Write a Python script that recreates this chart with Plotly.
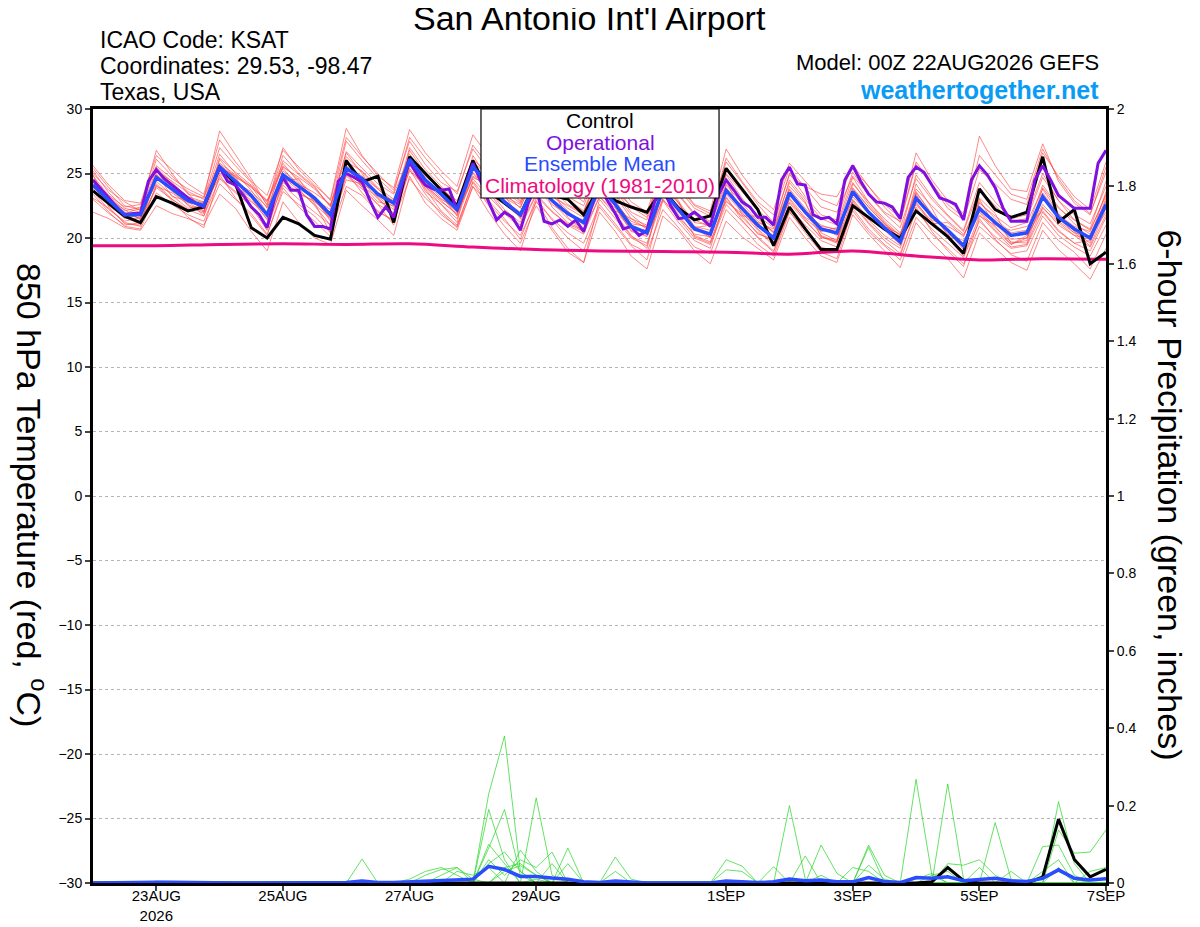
import pandas as pd
import plotly.graph_objects as go

# 6-hourly GEFS times and 3-hourly operational times
times = pd.date_range('2026-08-22 00:00', periods=65, freq='6h')
op_times = pd.date_range('2026-08-22 00:00', periods=129, freq='3h')

# ---- 850 hPa temperature (C) ----
control_t = [23.65, 22.7, 21.7, 21.2, 23.2, 22.7, 22.1, 22.4, 25.5, 24.2, 20.8, 20.0, 21.6, 21.1, 20.2, 19.9,
             26.0, 24.35, 24.8, 21.2, 26.3, 25.0, 23.7, 22.5, 26.0, 23.6, 22.7, 21.8, 24.5, 23.3, 23.0, 21.8,
             24.0, 22.9, 22.4, 22.0, 23.8, 22.3, 21.4, 21.7, 25.4, 23.8, 22.2, 19.4, 22.4, 20.7, 19.1, 19.1,
             22.5, 21.6, 20.7, 20.0, 22.1, 21.1, 20.1, 18.8, 23.8, 22.2, 21.6, 22.0, 26.3, 21.25, 22.2, 18.0, 18.9]

mean_t = [24.1, 22.9, 21.8, 21.8, 24.7, 23.8, 22.9, 22.5, 25.5, 24.4, 23.3, 21.8, 24.9, 24.0, 23.1, 21.8,
          25.4, 24.6, 23.4, 22.7, 26.1, 24.5, 23.4, 22.2, 25.5, 24.2, 22.8, 21.8, 24.3, 22.9, 21.9, 21.2,
          24.0, 22.6, 20.9, 20.4, 23.7, 22.2, 20.7, 20.3, 23.7, 22.3, 21.0, 20.0, 23.5, 22.0, 20.7, 20.4,
          23.6, 22.0, 20.8, 19.7, 23.1, 21.7, 20.6, 19.4, 22.3, 21.2, 20.2, 20.4, 23.2, 21.6, 20.7, 20.0, 22.6]

oper_t = [24.5, 23.8, 23.1, 22.4, 21.8, 21.9, 21.9, 24.4, 25.3, 24.6, 24.1, 23.6, 23.1, 22.7, 22.4, 24.0,
          25.5, 24.4, 24.1, 23.3, 22.4, 21.8, 20.8, 23.2, 24.7, 23.7, 23.7, 21.8, 20.9, 20.9, 20.7, 24.4,
          25.0, 24.7, 24.35, 22.9, 21.6, 22.4, 21.6, 24.0, 25.9, 24.9, 24.1, 23.8, 23.7, 23.8, 22.2, 24.0,
          25.8, 24.4, 22.8, 21.4, 22.0, 21.6, 20.6, 22.7, 24.0, 21.3, 21.1, 21.4, 20.9, 21.4, 20.5, 22.4,
          24.0, 22.9, 21.9, 20.7, 20.9, 20.2, 20.6, 22.9, 23.8, 22.5, 21.5, 21.6, 22.0, 21.5, 20.9, 23.3,
          24.5, 23.7, 22.8, 22.4, 21.6, 21.6, 21.0, 24.5, 25.5, 24.2, 24.1, 21.8, 21.5, 21.6, 21.1, 24.5,
          25.6, 24.4, 23.4, 22.8, 22.7, 22.4, 21.5, 24.7, 25.5, 25.1, 24.1, 23.1, 22.9, 22.6, 21.4, 24.5,
          25.6, 24.9, 23.9, 22.3, 21.3, 21.3, 21.3, 24.5, 25.6, 24.5, 23.3, 22.8, 22.3, 22.3, 22.3, 25.8,
          26.8]

clim_times = pd.date_range('2026-08-22 00:00', periods=17, freq='1D')
clim_t = [19.4, 19.4, 19.5, 19.55, 19.5, 19.55, 19.3, 19.1, 19.0, 18.95, 18.9, 18.75, 19.0, 18.6, 18.3, 18.4, 18.35]

members_t = [
    [25.2, 23.5, 22.3, 22.0, 26.1, 24.8, 23.6, 23.0, 27.0, 25.6, 24.3, 22.6, 26.4, 25.0, 24.0, 22.4, 27.5, 26.0, 24.6, 23.5, 27.8, 26.2, 24.8, 23.4, 27.2, 25.6, 24.0, 22.8, 26.0, 24.2, 23.0, 22.1, 25.3, 23.7, 22.0, 21.4, 25.1, 23.4, 21.9, 21.3, 25.0, 23.6, 22.2, 21.0, 25.0, 23.2, 21.8, 21.4, 25.1, 23.3, 21.9, 20.8, 24.6, 23.0, 21.7, 20.5, 23.8, 22.5, 21.3, 21.5, 24.7, 22.9, 21.8, 21.1, 24.0],
    [23.4, 22.0, 20.9, 20.7, 23.5, 22.6, 21.8, 21.3, 24.2, 23.0, 21.9, 20.3, 23.6, 22.6, 21.7, 20.4, 24.0, 23.3, 22.0, 21.4, 24.6, 23.1, 22.0, 20.8, 24.0, 22.7, 21.3, 20.2, 22.8, 21.5, 20.4, 19.6, 22.6, 21.1, 19.5, 18.9, 22.2, 20.8, 19.3, 18.8, 22.2, 20.9, 19.5, 18.6, 22.0, 20.6, 19.3, 18.9, 22.1, 20.5, 19.4, 18.3, 21.6, 20.3, 19.2, 18.0, 20.9, 19.8, 18.8, 19.0, 21.7, 20.2, 19.3, 18.6, 21.0],
    [24.6, 23.2, 22.0, 21.5, 25.2, 24.4, 23.5, 22.0, 26.2, 25.1, 24.1, 22.9, 25.5, 24.7, 23.8, 22.5, 26.6, 25.0, 23.1, 21.9, 25.4, 23.9, 22.6, 21.5, 24.8, 23.9, 23.1, 22.4, 25.1, 22.4, 21.2, 20.6, 23.2, 22.1, 21.5, 21.0, 24.6, 22.9, 20.1, 19.6, 22.9, 21.7, 21.7, 20.8, 24.3, 22.8, 20.1, 19.7, 24.2, 22.8, 21.5, 20.4, 22.6, 21.1, 21.2, 20.1, 23.1, 21.9, 19.6, 19.8, 23.9, 22.3, 21.4, 20.6, 23.3],
    [25.4, 23.9, 22.5, 22.2, 26.8, 25.0, 23.4, 23.1, 28.3, 26.4, 24.6, 22.5, 27.0, 25.3, 24.1, 23.0, 28.5, 26.4, 24.8, 23.9, 28.4, 26.6, 25.2, 24.0, 28.0, 26.3, 24.5, 23.2, 26.8, 24.9, 23.7, 22.8, 26.2, 24.5, 22.8, 22.0, 26.0, 24.2, 22.6, 22.1, 26.9, 24.9, 23.3, 22.2, 25.8, 24.4, 23.0, 22.5, 25.7, 24.0, 22.6, 21.6, 26.6, 24.5, 22.9, 21.9, 27.9, 25.6, 23.8, 23.6, 27.3, 24.4, 22.7, 21.8, 25.5],
    [22.0, 21.5, 20.8, 20.6, 22.5, 21.9, 21.5, 21.0, 23.4, 22.3, 20.5, 19.0, 22.8, 21.2, 20.0, 19.5, 23.7, 22.5, 21.4, 20.2, 24.8, 22.7, 21.5, 20.6, 24.0, 22.0, 20.3, 19.0, 22.9, 20.8, 19.2, 18.1, 22.0, 20.5, 18.6, 17.6, 21.7, 20.6, 19.0, 18.0, 21.3, 20.1, 19.2, 18.3, 21.6, 20.0, 18.6, 18.1, 21.8, 20.3, 19.0, 17.7, 21.2, 19.6, 18.4, 16.9, 20.4, 19.2, 18.1, 17.5, 20.6, 19.1, 18.0, 16.8, 19.2],
    [24.8, 23.3, 22.1, 22.4, 25.6, 24.6, 23.8, 23.2, 25.8, 24.9, 24.0, 22.3, 25.6, 24.5, 23.2, 21.3, 24.9, 24.0, 23.2, 22.2, 26.8, 25.0, 23.6, 22.0, 25.9, 24.8, 23.3, 21.5, 23.8, 22.6, 21.8, 21.4, 24.7, 23.3, 21.5, 20.7, 23.4, 21.8, 20.2, 19.7, 23.1, 21.6, 20.4, 19.7, 23.0, 21.4, 20.0, 19.9, 23.9, 22.4, 21.1, 19.9, 23.8, 22.5, 21.3, 20.3, 22.0, 20.6, 19.5, 20.0, 22.6, 21.3, 20.4, 20.1, 22.0],
    [23.8, 22.6, 21.5, 21.9, 24.2, 23.0, 22.1, 22.3, 25.0, 24.0, 23.1, 21.4, 24.3, 23.5, 22.8, 21.9, 25.9, 25.2, 23.9, 23.0, 26.5, 24.9, 23.9, 22.7, 25.1, 23.7, 22.2, 21.2, 24.7, 23.3, 22.1, 21.0, 23.5, 22.3, 20.6, 20.1, 23.0, 21.6, 20.3, 20.1, 24.1, 22.7, 21.3, 20.5, 22.8, 21.5, 20.5, 20.8, 24.3, 22.6, 21.2, 19.9, 23.5, 21.9, 20.5, 19.1, 22.7, 21.7, 20.8, 21.2, 23.8, 21.9, 20.5, 19.6, 22.8],
    [24.3, 23.0, 22.2, 21.4, 24.0, 23.5, 22.6, 22.0, 26.1, 24.6, 23.3, 21.7, 25.2, 24.2, 23.5, 22.6, 25.2, 24.1, 22.8, 22.5, 26.0, 24.2, 22.9, 21.8, 25.0, 23.6, 21.9, 20.8, 23.3, 22.0, 21.1, 20.5, 24.4, 22.9, 21.1, 20.9, 24.4, 22.7, 20.9, 20.1, 23.4, 22.0, 20.6, 19.4, 22.7, 21.3, 20.1, 19.6, 22.8, 21.2, 20.0, 19.2, 22.7, 21.3, 20.2, 19.6, 21.8, 20.5, 19.3, 19.5, 22.4, 21.0, 20.2, 19.9, 23.6],
    [24.9, 22.4, 21.1, 21.0, 25.0, 23.2, 22.9, 21.7, 25.3, 24.8, 22.4, 20.6, 24.4, 24.6, 22.7, 20.4, 26.1, 23.9, 22.6, 21.0, 25.9, 23.6, 22.6, 21.2, 26.4, 24.5, 23.5, 22.3, 25.4, 23.8, 21.6, 20.4, 24.9, 21.9, 20.2, 19.2, 23.9, 22.7, 20.8, 21.0, 24.5, 21.8, 20.3, 19.9, 24.0, 22.7, 20.4, 19.8, 23.0, 21.5, 20.6, 19.5, 24.2, 22.3, 20.1, 18.9, 23.0, 20.9, 19.5, 20.2, 22.3, 21.2, 20.2, 19.3, 21.8],
    [23.6, 22.2, 21.3, 21.6, 24.4, 23.3, 22.3, 22.6, 24.7, 23.6, 22.8, 21.9, 25.0, 23.8, 22.5, 21.0, 24.5, 24.2, 23.5, 22.9, 25.6, 24.3, 23.1, 22.0, 24.7, 24.1, 22.9, 22.0, 24.0, 23.2, 22.5, 21.8, 23.6, 22.0, 20.8, 20.6, 24.0, 22.2, 21.4, 20.9, 22.8, 21.9, 20.9, 20.2, 23.3, 21.9, 21.0, 20.6, 22.9, 21.4, 20.2, 19.4, 22.8, 21.1, 20.0, 18.6, 21.7, 21.0, 20.6, 20.9, 22.1, 20.6, 19.6, 19.8, 23.1],
    [25.0, 23.7, 22.8, 22.1, 25.3, 24.2, 23.1, 22.7, 26.5, 25.0, 23.7, 22.0, 26.0, 24.9, 23.9, 22.5, 26.3, 25.1, 23.8, 22.6, 27.0, 25.3, 24.0, 22.5, 25.7, 24.4, 23.2, 22.6, 25.5, 24.0, 22.9, 22.0, 25.0, 23.4, 21.8, 20.8, 24.9, 23.3, 21.8, 21.2, 24.9, 23.1, 21.5, 20.4, 24.5, 23.0, 21.5, 21.0, 24.7, 22.8, 21.3, 20.2, 24.9, 23.2, 21.8, 20.6, 24.3, 22.8, 21.5, 21.8, 25.0, 22.9, 21.4, 20.7, 24.4],
    [23.0, 21.9, 21.0, 21.2, 23.9, 23.0, 22.2, 21.7, 24.6, 23.5, 22.5, 21.0, 24.1, 23.0, 22.0, 21.0, 24.8, 23.8, 22.6, 21.9, 25.2, 24.0, 22.8, 21.9, 24.6, 23.2, 22.0, 21.0, 23.4, 22.1, 21.0, 20.3, 23.2, 21.8, 20.1, 19.6, 23.0, 21.5, 20.0, 19.5, 22.6, 21.3, 20.1, 19.0, 22.4, 21.0, 19.8, 19.3, 22.6, 21.1, 19.8, 18.8, 22.1, 20.7, 19.6, 18.5, 21.3, 20.1, 19.2, 19.4, 22.0, 20.5, 19.6, 19.0, 21.6],
    [24.2, 23.3, 22.4, 22.6, 25.5, 24.3, 23.1, 22.1, 25.7, 24.7, 24.0, 22.8, 25.4, 24.0, 23.0, 22.2, 26.7, 25.4, 24.2, 23.4, 26.3, 24.6, 23.3, 21.7, 25.3, 24.6, 23.6, 22.7, 24.9, 23.5, 22.3, 21.6, 24.2, 22.4, 20.5, 20.2, 23.3, 22.0, 20.9, 20.6, 23.9, 22.4, 20.7, 19.6, 23.1, 21.6, 20.9, 20.7, 23.2, 21.9, 20.9, 20.3, 23.4, 21.4, 20.9, 20.2, 22.8, 21.5, 20.4, 20.6, 24.1, 22.4, 21.1, 20.3, 22.9],
    [23.9, 22.8, 21.9, 21.5, 24.8, 23.6, 22.7, 22.8, 25.2, 24.3, 23.6, 22.4, 24.6, 23.4, 22.9, 21.6, 25.6, 24.8, 23.8, 22.8, 26.2, 24.8, 23.7, 22.9, 25.4, 24.0, 22.6, 21.6, 24.4, 22.8, 21.5, 20.7, 24.1, 22.7, 21.3, 20.8, 23.5, 22.5, 20.8, 20.0, 23.6, 22.5, 21.2, 20.7, 23.8, 22.3, 20.8, 20.2, 23.4, 22.1, 21.0, 20.0, 23.0, 21.8, 20.5, 19.2, 22.5, 21.1, 19.9, 20.0, 23.5, 21.8, 20.9, 20.5, 23.4],
    [24.4, 22.5, 21.6, 21.1, 24.9, 24.0, 22.5, 21.9, 25.4, 23.9, 22.9, 21.5, 24.7, 23.7, 22.6, 21.5, 25.0, 24.4, 23.0, 21.9, 25.7, 23.8, 22.1, 21.0, 24.3, 22.5, 20.9, 19.6, 22.5, 20.6, 18.9, 18.1, 23.0, 21.5, 20.0, 19.4, 23.9, 22.8, 21.2, 21.0, 24.2, 23.0, 21.6, 20.4, 23.7, 22.0, 20.2, 19.7, 23.8, 22.4, 21.1, 20.2, 23.6, 21.8, 20.3, 19.8, 22.1, 20.8, 19.7, 19.6, 23.1, 21.5, 20.4, 19.4, 22.3],
    [24.0, 22.7, 21.9, 22.3, 24.6, 23.9, 23.2, 22.8, 25.5, 24.8, 23.9, 22.9, 25.8, 24.3, 22.9, 21.5, 25.3, 24.5, 23.3, 22.4, 25.9, 24.0, 23.0, 22.3, 26.1, 25.0, 23.9, 22.9, 24.9, 23.8, 22.6, 21.9, 25.1, 23.6, 22.5, 21.8, 25.3, 24.0, 22.5, 21.9, 25.9, 24.3, 22.6, 21.2, 24.9, 24.0, 23.4, 23.2, 25.4, 24.0, 22.4, 21.2, 25.7, 24.1, 22.3, 21.4, 25.3, 24.2, 23.0, 22.6, 26.6, 24.8, 23.2, 22.2, 25.9],
    [23.1, 22.3, 21.2, 20.9, 24.1, 22.9, 21.6, 20.8, 24.9, 23.1, 21.7, 20.2, 23.9, 22.4, 21.3, 20.1, 25.1, 23.5, 22.1, 21.3, 25.3, 23.4, 21.8, 20.9, 24.4, 22.9, 21.5, 19.9, 23.1, 21.4, 20.0, 19.0, 22.4, 20.9, 19.4, 18.3, 22.9, 21.2, 19.8, 19.2, 23.2, 21.4, 20.0, 18.9, 22.1, 20.4, 18.9, 18.4, 22.3, 20.7, 19.5, 18.6, 22.4, 20.5, 19.0, 17.8, 21.5, 19.9, 18.7, 18.2, 21.2, 19.8, 18.9, 17.6, 20.3],
    [25.6, 24.1, 22.9, 22.7, 26.4, 25.3, 24.2, 23.4, 27.6, 25.9, 24.4, 23.3, 26.8, 25.5, 24.3, 22.9, 27.8, 26.3, 25.0, 23.7, 27.5, 25.7, 24.3, 23.6, 26.9, 25.2, 24.1, 23.3, 26.3, 24.6, 23.2, 22.5, 25.6, 24.0, 22.4, 21.6, 25.5, 23.8, 22.3, 21.7, 26.2, 24.4, 22.8, 21.8, 25.4, 23.9, 22.4, 22.0, 24.8, 23.4, 22.0, 21.3, 25.9, 24.2, 22.6, 21.6, 26.4, 24.9, 23.4, 23.0, 26.9, 24.6, 22.9, 21.9, 25.1],
]

# ---- 6-hour precipitation (inches) ----
control_p = [0, 0, 0, 0, 0, 0, 0, 0, 0, 0, 0, 0, 0, 0, 0, 0,
             0, 0, 0, 0, 0, 0, 0, 0, 0, 0, 0, 0, 0, 0, 0, 0,
             0, 0, 0, 0, 0, 0, 0, 0, 0, 0, 0, 0, 0, 0, 0, 0,
             0, 0, 0, 0, 0, 0.003, 0.04, 0.006, 0, 0, 0, 0, 0.015, 0.165, 0.061, 0.016, 0.035]

mean_p = [0, 0.001, 0.001, 0.001, 0.002, 0.002, 0.001, 0.001, 0, 0, 0, 0, 0, 0, 0, 0,
          0.001, 0.005, 0.001, 0.001, 0.003, 0.005, 0.007, 0.008, 0.01, 0.043, 0.035, 0.017, 0.017, 0.013, 0.01, 0.003,
          0.001, 0.005, 0.002, 0, 0, 0, 0, 0, 0.005, 0.004, 0.001, 0.003, 0.01, 0.006, 0.008, 0.003,
          0.003, 0.014, 0.004, 0.001, 0.014, 0.012, 0.016, 0.006, 0.01, 0.012, 0.006, 0.004, 0.012, 0.034, 0.012, 0.008, 0.011]

members_p = [
    [0, 0, 0, 0, 0, 0, 0, 0, 0, 0, 0, 0, 0, 0, 0, 0, 0, 0, 0, 0, 0, 0, 0, 0, 0, 0.23, 0.38, 0.03, 0, 0, 0, 0, 0, 0, 0, 0, 0, 0, 0, 0, 0, 0, 0, 0, 0.2, 0.01, 0, 0, 0, 0, 0, 0, 0, 0, 0, 0, 0, 0, 0, 0, 0, 0, 0, 0, 0],
    [0, 0, 0, 0, 0, 0, 0, 0, 0, 0, 0, 0, 0, 0, 0, 0, 0, 0, 0, 0, 0, 0, 0, 0, 0, 0.19, 0.06, 0, 0.22, 0.02, 0, 0, 0, 0, 0, 0, 0, 0, 0, 0, 0, 0, 0, 0, 0, 0, 0, 0, 0, 0, 0, 0, 0.268, 0.02, 0, 0, 0, 0, 0, 0, 0, 0, 0, 0, 0],
    [0, 0, 0, 0, 0, 0, 0, 0, 0, 0, 0, 0, 0, 0, 0, 0, 0, 0.062, 0, 0, 0, 0, 0, 0, 0, 0.09, 0.19, 0.02, 0, 0, 0, 0, 0, 0, 0, 0, 0, 0, 0, 0, 0, 0, 0, 0, 0, 0, 0, 0, 0, 0, 0, 0, 0, 0, 0.256, 0.01, 0, 0, 0, 0, 0, 0, 0, 0, 0],
    [0, 0, 0, 0, 0, 0, 0, 0, 0, 0, 0, 0, 0, 0, 0, 0, 0, 0, 0, 0, 0, 0.02, 0.035, 0.04, 0.01, 0, 0, 0.085, 0.03, 0, 0, 0, 0, 0, 0, 0, 0, 0, 0, 0, 0, 0, 0, 0, 0, 0, 0, 0, 0, 0, 0, 0, 0, 0, 0, 0, 0, 0.156, 0.01, 0, 0, 0, 0, 0, 0],
    [0, 0, 0, 0, 0, 0, 0, 0, 0, 0, 0, 0, 0, 0, 0, 0, 0, 0, 0, 0, 0.01, 0.03, 0.04, 0.02, 0, 0.1, 0.05, 0, 0, 0, 0.09, 0, 0, 0, 0, 0, 0, 0, 0, 0, 0, 0, 0, 0, 0, 0, 0, 0, 0, 0, 0, 0, 0, 0, 0, 0, 0, 0, 0, 0, 0, 0.21, 0.05, 0, 0],
    [0, 0, 0, 0, 0.005, 0.004, 0, 0, 0, 0, 0, 0, 0, 0, 0, 0, 0, 0, 0, 0, 0, 0, 0.02, 0.04, 0, 0.06, 0.02, 0.06, 0.04, 0.08, 0, 0, 0, 0, 0, 0, 0, 0, 0, 0, 0.06, 0.044, 0, 0, 0, 0, 0, 0, 0, 0.098, 0.02, 0, 0, 0, 0, 0, 0, 0, 0, 0, 0, 0.137, 0.077, 0.08, 0.137],
    [0, 0, 0, 0, 0, 0, 0, 0, 0, 0, 0, 0, 0, 0, 0, 0, 0, 0, 0, 0, 0, 0, 0, 0, 0, 0, 0.04, 0.05, 0.02, 0, 0, 0, 0, 0.067, 0.01, 0, 0, 0, 0, 0, 0.034, 0.03, 0, 0, 0, 0, 0.098, 0.025, 0, 0.092, 0, 0, 0, 0, 0, 0, 0, 0, 0, 0, 0.094, 0.098, 0.02, 0, 0],
    [0, 0, 0, 0, 0, 0, 0, 0, 0, 0, 0, 0, 0, 0, 0, 0, 0, 0, 0, 0, 0, 0, 0, 0, 0, 0.05, 0.08, 0.03, 0, 0.05, 0, 0, 0, 0, 0, 0, 0, 0, 0, 0, 0, 0, 0, 0.042, 0, 0.07, 0, 0, 0, 0.046, 0.01, 0, 0, 0, 0.05, 0.046, 0.06, 0.02, 0, 0, 0.03, 0.06, 0, 0, 0],
    [0, 0, 0, 0, 0, 0, 0, 0, 0, 0, 0, 0, 0, 0, 0, 0, 0, 0, 0, 0, 0, 0, 0, 0, 0, 0, 0.03, 0.045, 0.02, 0, 0.05, 0, 0, 0.03, 0, 0, 0, 0, 0, 0, 0, 0, 0, 0, 0.01, 0, 0, 0, 0.04, 0.03, 0, 0, 0, 0.02, 0.03, 0, 0.04, 0, 0, 0, 0, 0.04, 0, 0.03, 0.04],
    [0, 0, 0, 0, 0, 0, 0, 0, 0, 0, 0, 0, 0, 0, 0, 0, 0, 0, 0, 0, 0, 0, 0, 0.03, 0.02, 0.04, 0, 0, 0.01, 0, 0, 0, 0, 0, 0, 0, 0, 0, 0, 0, 0, 0, 0, 0, 0, 0, 0.02, 0, 0, 0, 0, 0, 0.01, 0.025, 0, 0, 0, 0, 0.03, 0, 0.02, 0.03, 0.01, 0, 0],
]

tick_dates = ['2026-08-23', '2026-08-25', '2026-08-27', '2026-08-29',
              '2026-09-01', '2026-09-03', '2026-09-05', '2026-09-07']
tick_labels = ['23AUG<br>2026', '25AUG', '27AUG', '29AUG', '1SEP', '3SEP', '5SEP', '7SEP']

FONT = 'Liberation Sans, Arial, sans-serif'

fig = go.Figure()

for m in members_t:
    fig.add_trace(go.Scatter(x=times, y=m, mode='lines',
                             line=dict(color='rgba(255,70,70,0.8)', width=0.8)))
for m in members_p:
    fig.add_trace(go.Scatter(x=times, y=m, mode='lines', yaxis='y2',
                             line=dict(color='rgba(40,215,40,0.9)', width=0.8)))

fig.add_trace(go.Scatter(x=clim_times, y=clim_t, mode='lines',
                         line=dict(color='#ee0a80', width=3, shape='spline')))
fig.add_trace(go.Scatter(x=times, y=control_t, mode='lines', line=dict(color='black', width=3)))
fig.add_trace(go.Scatter(x=op_times, y=oper_t, mode='lines', line=dict(color='#8010e0', width=3)))
fig.add_trace(go.Scatter(x=times, y=mean_t, mode='lines', line=dict(color='#2a4cff', width=3.5)))

fig.add_trace(go.Scatter(x=times, y=control_p, mode='lines', yaxis='y2', line=dict(color='black', width=3)))
fig.add_trace(go.Scatter(x=times, y=mean_p, mode='lines', yaxis='y2', line=dict(color='#2a4cff', width=3.5)))

# page body adds an 8px offset, so the figure is shrunk by that much
fig.update_layout(
    width=1192, height=919,
    margin=dict(l=85, r=94, t=101, b=44, autoexpand=False),
    paper_bgcolor='white', plot_bgcolor='white',
    showlegend=False,
    font=dict(family=FONT, color='black'),
    xaxis=dict(type='date', range=['2026-08-22 00:00', '2026-09-07 00:00'], automargin=False,
               tickvals=tick_dates, ticktext=tick_labels, tickfont=dict(size=15),
               ticklabelstandoff=-8,
               showgrid=False, zeroline=False, ticks='outside', ticklen=5, tickwidth=1.5,
               showline=True, linewidth=3, linecolor='black', mirror=True),
    yaxis=dict(range=[-30, 30], dtick=5, tickfont=dict(size=14), automargin=False,
               showgrid=True, gridcolor='#b4b4b4', griddash='dot', gridwidth=1,
               zeroline=False, ticks='outside', ticklen=5, tickwidth=1.5,
               showline=True, linewidth=3, linecolor='black'),
    yaxis2=dict(range=[0, 2], dtick=0.2, overlaying='y', side='right', tickfont=dict(size=14),
                automargin=False,
                showgrid=False, zeroline=False, ticks='outside', ticklen=5, tickwidth=1.5,
                showline=True, linewidth=3, linecolor='black'),
)

# legend box
fig.add_shape(type='rect', xref='paper', yref='paper', x0=0.383, x1=0.618, y0=0.885, y1=1.0,
              line=dict(color='black', width=1.2), fillcolor='white', layer='above')
legend_items = [('Control', 'black', 0.9845), ('Operational', '#8010e0', 0.957),
                ('Ensemble Mean', '#2a4cff', 0.930), ('Climatology (1981-2010)', '#ee0a80', 0.9018)]
for txt, col, yy in legend_items:
    fig.add_annotation(text=txt, xref='paper', yref='paper', x=0.5005, y=yy, showarrow=False,
                       xanchor='center', yanchor='middle', font=dict(size=21, color=col))

# header texts
fig.add_annotation(text="San Antonio Int'l Airport", xref='paper', yref='paper', x=0.4906, y=1.1176,
                   showarrow=False, xanchor='center', yanchor='middle', font=dict(size=34))
for txt, yy in [('ICAO Code: KSAT', 1.089), ('Coordinates: 29.53, -98.47', 1.0556), ('Texas, USA', 1.022)]:
    fig.add_annotation(text=txt, xref='paper', yref='paper', x=0.005, y=yy, showarrow=False,
                       xanchor='left', yanchor='middle', font=dict(size=23))
fig.add_annotation(text='Model: 00Z 22AUG2026 GEFS', xref='paper', yref='paper', x=0.995, y=1.060,
                   showarrow=False, xanchor='right', yanchor='middle', font=dict(size=22))
fig.add_annotation(text='<b>weathertogether.net</b>', xref='paper', yref='paper', x=0.995, y=1.025,
                   showarrow=False, xanchor='right', yanchor='middle', font=dict(size=25, color='#0a9cf5'))

# axis titles (rotated, reading top to bottom)
fig.add_annotation(text='850 hPa Temperature (red, <sup>o</sup>C)', xref='paper', yref='paper',
                   x=-0.060, y=0.501, textangle=90, showarrow=False, xanchor='center', yanchor='middle',
                   font=dict(size=34))
fig.add_annotation(text='6-hour Precipitation (green, inches)', xref='paper', yref='paper',
                   x=1.063, y=0.501, textangle=90, showarrow=False, xanchor='center', yanchor='middle',
                   font=dict(size=34))

fig.write_html('out.html')
